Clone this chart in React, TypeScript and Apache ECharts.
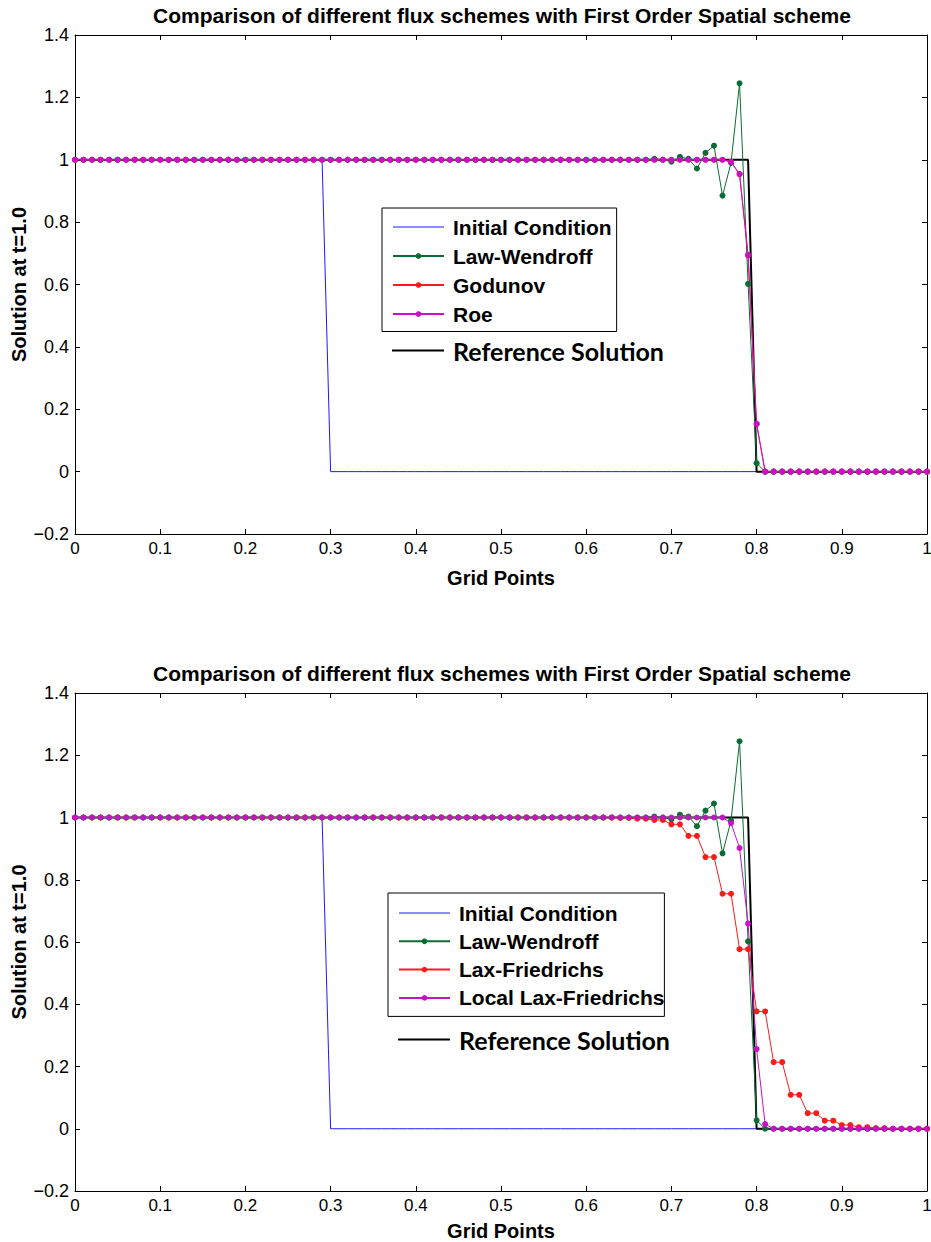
import React, { useEffect, useRef } from "react";
import * as echarts from "echarts";

// Grid points (x positions of the numerical solution)
const gridX = [
  0, 0.01, 0.02, 0.03, 0.04, 0.05, 0.06, 0.07, 0.08, 0.09,
  0.1, 0.11, 0.12, 0.13, 0.14, 0.15, 0.16, 0.17, 0.18, 0.19,
  0.2, 0.21, 0.22, 0.23, 0.24, 0.25, 0.26, 0.27, 0.28, 0.29,
  0.3, 0.31, 0.32, 0.33, 0.34, 0.35, 0.36, 0.37, 0.38, 0.39,
  0.4, 0.41, 0.42, 0.43, 0.44, 0.45, 0.46, 0.47, 0.48, 0.49,
  0.5, 0.51, 0.52, 0.53, 0.54, 0.55, 0.56, 0.57, 0.58, 0.59,
  0.6, 0.61, 0.62, 0.63, 0.64, 0.65, 0.66, 0.67, 0.68, 0.69,
  0.7, 0.71, 0.72, 0.73, 0.74, 0.75, 0.76, 0.77, 0.78, 0.79,
  0.8, 0.81, 0.82, 0.83, 0.84, 0.85, 0.86, 0.87, 0.88, 0.89,
  0.9, 0.91, 0.92, 0.93, 0.94, 0.95, 0.96, 0.97, 0.98, 0.99,
  1,
];

const initialCondition = [
  1, 1, 1, 1, 1, 1, 1, 1, 1, 1,
  1, 1, 1, 1, 1, 1, 1, 1, 1, 1,
  1, 1, 1, 1, 1, 1, 1, 1, 1, 1,
  0, 0, 0, 0, 0, 0, 0, 0, 0, 0,
  0, 0, 0, 0, 0, 0, 0, 0, 0, 0,
  0, 0, 0, 0, 0, 0, 0, 0, 0, 0,
  0, 0, 0, 0, 0, 0, 0, 0, 0, 0,
  0, 0, 0, 0, 0, 0, 0, 0, 0, 0,
  0, 0, 0, 0, 0, 0, 0, 0, 0, 0,
  0, 0, 0, 0, 0, 0, 0, 0, 0, 0,
  0,
];

const referenceSolution = [
  1, 1, 1, 1, 1, 1, 1, 1, 1, 1,
  1, 1, 1, 1, 1, 1, 1, 1, 1, 1,
  1, 1, 1, 1, 1, 1, 1, 1, 1, 1,
  1, 1, 1, 1, 1, 1, 1, 1, 1, 1,
  1, 1, 1, 1, 1, 1, 1, 1, 1, 1,
  1, 1, 1, 1, 1, 1, 1, 1, 1, 1,
  1, 1, 1, 1, 1, 1, 1, 1, 1, 1,
  1, 1, 1, 1, 1, 1, 1, 1, 1, 1,
  0, 0, 0, 0, 0, 0, 0, 0, 0, 0,
  0, 0, 0, 0, 0, 0, 0, 0, 0, 0,
  0,
];

const lawWendroff = [
  1, 1, 1, 1, 1, 1, 1, 1, 1, 1,
  1, 1, 1, 1, 1, 1, 1, 1, 1, 1,
  1, 1, 1, 1, 1, 1, 1, 1, 1, 1,
  1, 1, 1, 1, 1, 1, 1, 1, 1, 1,
  1, 1, 1, 1, 1, 1, 1, 1, 1, 1,
  1, 1, 1, 1, 1, 1, 1, 1, 1, 1,
  1, 1, 1, 1, 1, 1, 1, 1, 1.003, 1.0,
  0.994, 1.009, 1.003, 0.972, 1.022, 1.045, 0.885, 0.99, 1.245, 0.602,
  0.027, 0, 0, 0, 0, 0, 0, 0, 0, 0,
  0, 0, 0, 0, 0, 0, 0, 0, 0, 0,
  0,
];

const godunov = [
  1, 1, 1, 1, 1, 1, 1, 1, 1, 1,
  1, 1, 1, 1, 1, 1, 1, 1, 1, 1,
  1, 1, 1, 1, 1, 1, 1, 1, 1, 1,
  1, 1, 1, 1, 1, 1, 1, 1, 1, 1,
  1, 1, 1, 1, 1, 1, 1, 1, 1, 1,
  1, 1, 1, 1, 1, 1, 1, 1, 1, 1,
  1, 1, 1, 1, 1, 1, 1, 1, 1, 1,
  1, 1, 1, 1, 1, 1, 1, 0.993, 0.954, 0.694,
  0.153, 0, 0, 0, 0, 0, 0, 0, 0, 0,
  0, 0, 0, 0, 0, 0, 0, 0, 0, 0,
  0,
];

const roe = [
  1, 1, 1, 1, 1, 1, 1, 1, 1, 1,
  1, 1, 1, 1, 1, 1, 1, 1, 1, 1,
  1, 1, 1, 1, 1, 1, 1, 1, 1, 1,
  1, 1, 1, 1, 1, 1, 1, 1, 1, 1,
  1, 1, 1, 1, 1, 1, 1, 1, 1, 1,
  1, 1, 1, 1, 1, 1, 1, 1, 1, 1,
  1, 1, 1, 1, 1, 1, 1, 1, 1, 1,
  1, 1, 1, 1, 1, 1, 1, 0.993, 0.954, 0.694,
  0.153, 0, 0, 0, 0, 0, 0, 0, 0, 0,
  0, 0, 0, 0, 0, 0, 0, 0, 0, 0,
  0,
];

const laxFriedrichs = [
  1, 1, 1, 1, 1, 1, 1, 1, 1, 1,
  1, 1, 1, 1, 1, 1, 1, 1, 1, 1,
  1, 1, 1, 1, 1, 1, 1, 1, 1, 1,
  1, 1, 1, 1, 1, 1, 1, 1, 1, 1,
  1, 1, 1, 1, 1, 1, 1, 1, 1, 1,
  1, 1, 1, 1, 1, 1, 1, 1, 1, 1,
  1, 1, 1, 1, 0.999, 0.999, 0.996, 0.996, 0.992, 0.992,
  0.978, 0.978, 0.941, 0.941, 0.873, 0.873, 0.755, 0.755, 0.577, 0.577,
  0.377, 0.377, 0.214, 0.214, 0.109, 0.109, 0.05, 0.05, 0.026, 0.026,
  0.012, 0.012, 0.005, 0.005, 0.002, 0.002, 0, 0, 0, 0,
  0,
];

const localLaxFriedrichs = [
  1, 1, 1, 1, 1, 1, 1, 1, 1, 1,
  1, 1, 1, 1, 1, 1, 1, 1, 1, 1,
  1, 1, 1, 1, 1, 1, 1, 1, 1, 1,
  1, 1, 1, 1, 1, 1, 1, 1, 1, 1,
  1, 1, 1, 1, 1, 1, 1, 1, 1, 1,
  1, 1, 1, 1, 1, 1, 1, 1, 1, 1,
  1, 1, 1, 1, 1, 1, 1, 1, 1, 1,
  1, 1, 1, 1, 1, 1, 1, 0.982, 0.902, 0.659,
  0.256, 0.015, 0, 0, 0, 0, 0, 0, 0, 0,
  0, 0, 0, 0, 0, 0, 0, 0, 0, 0,
  0,
];

const xTicks = { min: 0, max: 1, interval: 0.1 };
const yTicks = { min: -0.2, max: 1.4, interval: 0.2 };

const titleText = "Comparison of different flux schemes with First Order Spatial scheme";
const xName = "Grid Points";
const yName = "Solution at t=1.0";

const FONT = "'Liberation Sans', Arial, Helvetica, sans-serif";
const COLORS = {
  initial: "#1a1aff",
  lw: "#0b6b34",
  red: "#ff1a1a",
  mag: "#c810c8",
  ref: "#000000",
};

const pairs = (ys: number[]) => gridX.map((x, i) => [x, ys[i]]);

const fmtX = (v: number) => String(Math.round(v * 10) / 10);
const fmtY = (v: number) => String(Math.round(v * 10) / 10).replace("-", "\u2212");

function axesFor(gridIndex: number, nameGapX: number) {
  const common = {
    gridIndex,
    type: "value" as const,
    axisLine: { show: true, onZero: false, lineStyle: { color: "#000", width: 1 } },
    axisTick: { show: true, inside: true, length: 5, lineStyle: { color: "#000" } },
    splitLine: { show: false },
  };
  const xs = [
    {
      ...common,
      ...xTicks,
      position: "bottom",
      axisLabel: { show: true, margin: 6, fontSize: 17, color: "#000", fontFamily: FONT, formatter: fmtX },
      name: xName,
      nameLocation: "middle",
      nameGap: nameGapX,
      nameMoveOverlap: false,
      nameTextStyle: { fontSize: 20, fontWeight: "bold", color: "#000", fontFamily: FONT },
    },
    { ...common, ...xTicks, position: "top", axisLabel: { show: false } },
  ];
  const ys = [
    {
      ...common,
      ...yTicks,
      position: "left",
      axisLabel: { show: true, margin: 6, fontSize: 18, color: "#000", fontFamily: FONT, formatter: fmtY },
      name: yName,
      nameLocation: "middle",
      nameGap: 46,
      nameRotate: 90,
      nameMoveOverlap: false,
      nameTextStyle: { fontSize: 20, fontWeight: "bold", color: "#000", fontFamily: FONT },
    },
    { ...common, ...yTicks, position: "right", axisLabel: { show: false } },
  ];
  return { xs, ys };
}

function lineSeries(name: string, ys: number[], color: string, axisBase: number, markers: boolean, width = 1) {
  return {
    name,
    type: "line",
    xAxisIndex: axisBase,
    yAxisIndex: axisBase,
    data: pairs(ys),
    showSymbol: markers,
    symbol: markers ? "circle" : "none",
    symbolSize: 6,
    lineStyle: { color, width },
    itemStyle: { color },
    emphasis: { disabled: true },
    silent: true,
  };
}

const thinIcon = "path://M0,0L100,0L100,2L0,2Z";
const thickIcon = "path://M0,0L100,0L100,4L0,4Z";

function boxLegend(names: string[], left: number, top: number, gap: number, pad: number[]) {
  return {
    orient: "vertical",
    left,
    top,
    selectedMode: false,
    itemWidth: 51,
    itemHeight: 7,
    itemGap: gap,
    padding: pad,
    borderColor: "#000",
    borderWidth: 1,
    backgroundColor: "#fff",
    data: [{ name: names[0], icon: thinIcon }, names[1], names[2], names[3]],
    textStyle: { fontSize: 21, fontWeight: "bold", color: "#000", fontFamily: FONT, padding: [0, 0, 0, 4] },
  };
}

function refLegend(left: number, top: number) {
  return {
    orient: "vertical",
    left,
    top,
    selectedMode: false,
    itemWidth: 52,
    itemHeight: 7,
    padding: 0,
    data: [{ name: "Reference Solution", icon: thickIcon }],
    textStyle: { fontSize: 25, fontWeight: "bold", color: "#000", fontFamily: "Lato, 'Open Sans', sans-serif", padding: [0, 0, 0, 4] },
  };
}

export default function App() {
  const ref = useRef<HTMLDivElement>(null);
  useEffect(() => {
    const chart = echarts.init(ref.current!, null, { renderer: "svg" });
    const a0 = axesFor(0, 34);
    const a1 = axesFor(1, 30);
    const titleStyle = { fontSize: 21, fontWeight: "bold", color: "#000", fontFamily: FONT };
    const option = {
      animation: false,
      backgroundColor: "#fff",
      title: [
        { text: titleText, left: 502, top: 5, textAlign: "center", padding: 0, textStyle: titleStyle },
        { text: titleText, left: 502, top: 663, textAlign: "center", padding: 0, textStyle: titleStyle },
      ],
      grid: [
        { left: 75, top: 35, width: 852, height: 499, containLabel: false, outerBoundsMode: "none" },
        { left: 75, top: 693, width: 852, height: 498, containLabel: false, outerBoundsMode: "none" },
      ],
      xAxis: [...a0.xs, ...a1.xs],
      yAxis: [...a0.ys, ...a1.ys],
      legend: [
        boxLegend(["Initial Condition", "Law-Wendroff", "Godunov", "Roe"], 382, 208, 8, [8.5, 5, 7, 10]),
        refLegend(392, 338),
        boxLegend(["Initial Condition", "Law-Wendroff", "Lax-Friedrichs", "Local Lax-Friedrichs"], 388, 893, 7.3, [9.5, 0, 8, 10]),
        refLegend(398, 1027),
      ],
      series: [
        lineSeries("Initial Condition", initialCondition, COLORS.initial, 0, false),
        lineSeries("Reference Solution", referenceSolution, COLORS.ref, 0, false, 2),
        lineSeries("Law-Wendroff", lawWendroff, COLORS.lw, 0, true),
        lineSeries("Godunov", godunov, COLORS.red, 0, true),
        lineSeries("Roe", roe, COLORS.mag, 0, true),
        lineSeries("Initial Condition", initialCondition, COLORS.initial, 2, false),
        lineSeries("Reference Solution", referenceSolution, COLORS.ref, 2, false, 2),
        lineSeries("Law-Wendroff", lawWendroff, COLORS.lw, 2, true),
        lineSeries("Lax-Friedrichs", laxFriedrichs, COLORS.red, 2, true),
        lineSeries("Local Lax-Friedrichs", localLaxFriedrichs, COLORS.mag, 2, true),
      ],
    };
    chart.setOption(option as any);
    return () => chart.dispose();
  }, []);
  return (
    <div
      ref={ref}
      style={{ position: "absolute", left: 0, top: 0, width: 931, height: 1242, background: "#fff" }}
    />
  );
}
